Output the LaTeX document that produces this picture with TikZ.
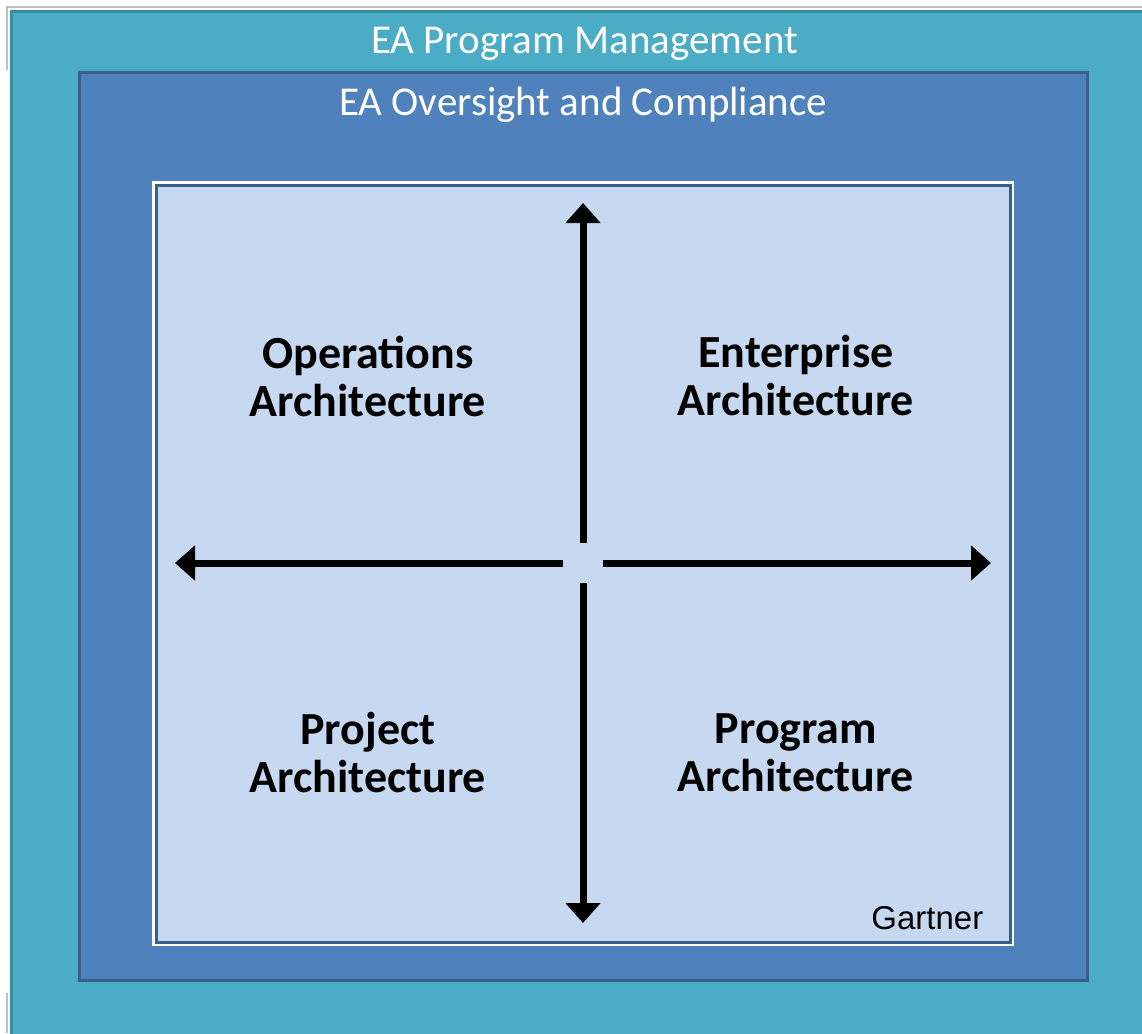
\documentclass[tikz,border=0pt]{standalone}
\usepackage{fontspec}
\setmainfont{Carlito}
\newfontfamily\arialfont{Liberation Sans}
\usetikzlibrary{arrows.meta,positioning,calc}
\definecolor{mgmtfill}{HTML}{4BACC6}
\definecolor{mgmtline}{HTML}{3A8CA3}
\definecolor{oversightfill}{HTML}{4F81BD}
\definecolor{oversightline}{HTML}{3A5F8C}
\definecolor{fieldfill}{HTML}{C6D9F1}
\tikzstyle{box} = [rectangle, anchor=north west, inner sep=0pt]
\tikzset{axis/.style = {
    line width=7pt,
    -{Triangle[length=20pt, width=34pt]},
    shorten <=20pt,
  }
}

\begin{document}
\begin{tikzpicture}[x=1pt, y=-1pt]
          \useasboundingbox (0,0) rectangle (1142,1033);
          % vertices
          \tikzstyle{title} = [text=white, font=\fontsize{41}{48}\selectfont, inner sep=0pt]
          \tikzstyle{quadrant} = [align=center, font=\bfseries\fontsize{46}{48}\selectfont, inner sep=0pt]

          \draw[black!25, line width=1.5pt] (7,70) -- (7,7) -- (1142,7);
          \draw[black!25, line width=1.5pt] (7,993) -- (7,1033);

          \node[box, fill=mgmtfill, draw=mgmtline, line width=3pt, minimum width=1146pt, minimum height=1040pt] (mgmt) at (10,10) {};
          \node[title, below=43pt of mgmt.north, anchor=base] (mgmtlabel) {EA Program Management};

          \node[box, fill=oversightfill, draw=oversightline, line width=2.5pt, minimum width=1008pt, minimum height=908pt] (oversight) at (78,71) {};
          \node[title, below=44pt of oversight.north, anchor=base] (oversightlabel) {EA Oversight and Compliance};

          \node[box, fill=fieldfill, draw=oversightline, line width=2.5pt, preaction={draw=white, line width=8pt}, minimum width=854pt, minimum height=757pt] (field) at (155,184) {};

          \node[quadrant] (ops)  at (368,376) {Operations\\Architecture};
          \node[quadrant] (ent)  at (796,376) {Enterprise\\Architecture};
          \node[quadrant] (proj) at (368,753) {Project\\Architecture};
          \node[quadrant] (prog) at (796,753) {Program\\Architecture};
          \node[anchor=base east, inner sep=0pt, font=\arialfont\fontsize{33}{38}\selectfont] (source) at ($(field.south east)+(-28,-14)$) {Gartner};

          \coordinate (centre) at (583,563);
          \coordinate (top)    at (583,203);
          \coordinate (bottom) at (583,923);
          \coordinate (left)   at (175,563);
          \coordinate (right)  at (991,563);

          \draw[axis] (centre) -- (top);
          \draw[axis] (centre) -- (bottom);
          \draw[axis] (centre) -- (left);
          \draw[axis] (centre) -- (right);
\end{tikzpicture}
\end{document}
